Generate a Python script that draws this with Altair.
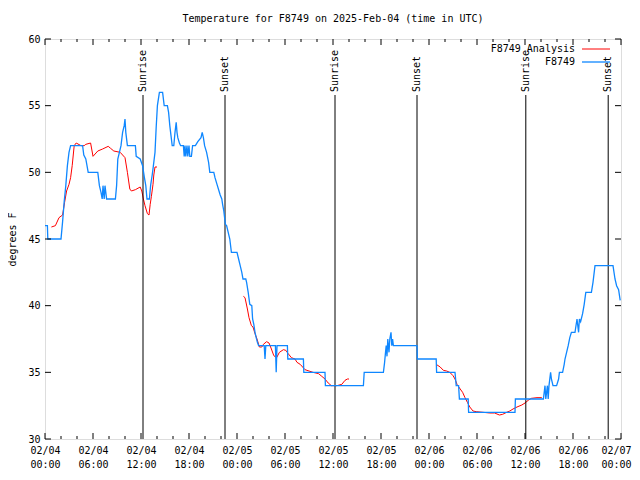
import altair as alt
import pandas as pd

# ---------------- data (hours since 2025-02-04 00:00 UTC, degrees F) ----------------
blue_hours = [
    0.0, 0.3, 0.35, 2.0, 2.2, 2.4, 2.6, 2.8, 3.0, 3.2,
    4.7, 4.85, 5.1, 5.4, 6.6, 6.8, 7.0, 7.15, 7.25, 7.4,
    7.5, 7.7, 8.8, 8.95, 9.1, 9.5, 9.7, 9.9, 10.0, 10.1,
    10.3, 11.3, 11.4, 11.9, 12.2, 12.4, 12.6, 12.75, 13.05, 13.2,
    13.4, 13.55, 13.75, 13.9, 14.05, 14.3, 14.7, 14.9, 15.3, 15.45,
    15.6, 15.75, 15.9, 16.1, 16.25, 16.4, 16.5, 16.6, 16.8, 16.95,
    17.3, 17.4, 17.5, 17.6, 17.75, 17.85, 18.0, 18.1, 18.3, 18.45,
    18.8, 19.1, 19.5, 19.65, 19.8, 19.95, 20.2, 20.45, 20.6, 21.1,
    21.25, 21.5, 21.75, 21.9, 22.1, 22.2, 22.35, 22.45, 22.55, 22.7,
    22.9, 23.1, 23.3, 24.0, 24.2, 24.4, 24.6, 24.75, 25.1, 25.2,
    25.4, 25.6, 25.85, 25.95, 26.1, 26.25, 26.4, 26.55, 26.7, 27.4,
    27.5, 27.6, 28.8, 28.9, 29.0, 30.3, 30.35, 32.3, 32.35, 35.0,
    35.05, 39.8, 39.9, 42.3, 42.45, 42.55, 42.65, 42.75, 42.85, 43.0,
    43.1, 43.25, 43.35, 43.45, 43.55, 46.5, 46.55, 48.9, 48.95, 51.25,
    51.4, 51.7, 51.8, 52.9, 52.95, 58.75, 58.8, 62.3, 62.5, 62.6,
    62.8, 62.9, 63.0, 63.2, 63.3, 63.5, 63.95, 64.2, 64.3, 64.7,
    64.9, 65.0, 65.2, 65.4, 65.6, 65.8, 66.25, 66.5, 66.7, 66.8,
    66.95, 67.2, 67.4, 67.6, 68.3, 68.5, 68.75, 71.0, 71.25, 71.45,
    71.7, 71.9,
]
blue_temps = [
    46, 46, 45, 45, 46.3, 47.8, 49, 50.5, 51.5, 52,
    52, 51.3, 51, 50, 50, 49, 48.5, 48, 49, 48,
    49, 48, 48, 49, 51, 52, 53, 53.5, 54, 53,
    52, 52, 51.2, 51, 50.5, 49.7, 49, 48, 48, 49,
    49.8, 50.5, 51.5, 53.4, 55, 56, 56, 55, 55, 54.5,
    53.5, 52.75, 52, 52, 53, 53.75, 53, 52.6, 52.2, 52,
    52, 51.2, 52, 51.2, 52, 51.2, 52, 51.2, 51.2, 52,
    52, 52.3, 52.6, 53, 52.6, 52, 51.5, 50.75, 50, 50,
    49.6, 49.1, 48.6, 48.3, 48, 47.6, 47.1, 46.6, 46.1, 46,
    45.5, 45, 44, 44, 43.5, 43, 42.5, 42, 42, 41.75,
    41, 40.1, 40, 39, 38.6, 38, 37.6, 37.25, 37, 37,
    36, 37, 37, 35, 37, 37, 36, 36, 35, 35,
    34, 34, 35, 35, 35.75, 36.4, 37, 36.2, 37.5, 36.5,
    37.5, 38, 37, 37.5, 37, 37, 36, 36, 35, 35,
    34, 34, 33, 33, 32, 32, 33, 33, 34, 33,
    34, 33, 34, 35, 34.5, 34, 34, 34.5, 35, 35,
    35.6, 36, 36.5, 37, 37.6, 38, 38, 39, 38, 39,
    38.8, 39.4, 40.1, 41, 41, 41.75, 43, 43, 42, 41.5,
    41.2, 40.4,
]

red1_hours = [0.8, 1.3, 1.75, 2.2, 2.45, 2.7, 3.0, 3.2, 3.4, 3.65,
              3.9, 4.5, 4.9, 5.1, 5.7, 6.0, 6.6, 7.2, 7.9, 8.2,
              8.6, 9.4, 10.0, 10.3, 10.6, 10.8, 11.3, 11.9, 12.1, 12.3,
              12.5, 12.8, 13.0, 13.15, 13.3, 13.5, 13.6, 13.75, 14.0]
red1_temps = [45.9, 46.0, 46.6, 46.8, 47.75, 48.6, 49.1, 49.6, 50.5, 52.0,
              52.2, 52.0, 52.0, 52.1, 52.2, 51.2, 51.6, 51.75, 51.95, 51.8,
              51.6, 51.5, 51.1, 50.0, 48.75, 48.6, 48.7, 48.9, 48.6, 48.0,
              47.5, 46.9, 46.8, 47.6, 48.2, 49.1, 49.8, 50.4, 50.4]
red2_hours = [24.8, 25.0, 25.3, 25.5, 25.8, 26.0, 26.25, 26.5, 26.8, 27.1,
              27.3, 27.7, 28.0, 28.3, 28.6, 28.95, 29.3, 29.8, 30.1, 30.4,
              30.8, 31.25, 31.5, 31.9, 32.5, 33.0, 33.5, 34.2, 34.6, 35.0,
              35.4, 35.8, 36.5, 37.1, 37.5, 37.8, 38.0]
red2_temps = [40.7, 40.6, 39.75, 39.1, 38.5, 38.4, 37.9, 37.5, 36.9, 36.9,
              37.1, 37.3, 37.2, 36.75, 36.25, 36.1, 36.5, 36.7, 36.65, 36.4,
              36.1, 36.0, 35.75, 35.6, 35.2, 35.1, 35.0, 34.9, 34.7, 34.5,
              34.2, 34.0, 34.0, 34.1, 34.4, 34.5, 34.5]
red3_hours = [48.9, 49.4, 49.8, 50.2, 50.6, 51.0, 51.25, 51.5, 51.9, 52.2,
              52.5, 52.8, 53.1, 53.5, 53.9, 54.8, 55.6, 56.2, 56.8, 57.2,
              57.7, 58.1, 58.5, 59.0, 59.6, 60.0, 60.4, 60.8, 61.5, 62.1]
red3_temps = [35.6, 35.4, 35.15, 35.1, 35.0, 34.75, 34.5, 34.1, 33.75, 33.5,
              33.1, 32.75, 32.4, 32.1, 32.05, 32.0, 31.95, 31.95, 31.8, 31.85,
              32.0, 32.1, 32.25, 32.4, 32.55, 32.7, 32.9, 33.05, 33.1, 33.1]

sun_hours = [12.25, 22.5, 36.25, 46.5, 60.1, 70.4]
sun_names = ["Sunrise", "Sunset", "Sunrise", "Sunset", "Sunrise", "Sunset"]

x_major = [0, 6, 12, 18, 24, 30, 36, 42, 48, 54, 60, 66, 72]
x_minor = [2, 4, 8, 10, 14, 16, 20, 22, 26, 28, 32, 34, 38, 40, 44, 46,
           50, 52, 56, 58, 62, 64, 68, 70]
y_major = [30, 35, 40, 45, 50, 55, 60]

TITLE = "Temperature for F8749 on 2025-Feb-04 (time in UTC)"
LEG_ANALYSIS = "F8749 Analysis"
LEG_OBS = "F8749"

# ---------------- frames ----------------
obs = pd.DataFrame({"h": blue_hours, "t": blue_temps})
ana = pd.concat([
    pd.DataFrame({"h": red1_hours, "t": red1_temps, "seg": "a"}),
    pd.DataFrame({"h": red2_hours, "t": red2_temps, "seg": "b"}),
    pd.DataFrame({"h": red3_hours, "t": red3_temps, "seg": "c"}),
], ignore_index=True)
sun = pd.DataFrame({"h": sun_hours, "name": sun_names})
xmaj = pd.DataFrame({"h": x_major})
xmin = pd.DataFrame({"h": x_minor})
ymaj = pd.DataFrame({"t": y_major})

W, H = 576, 400
FONT = "DejaVu Sans Mono"
RED = "#ff0000"
BLUE = "#0f87ff"

xs = alt.Scale(domain=[0, 72], nice=False, zero=False)
ys = alt.Scale(domain=[30, 60], nice=False, zero=False)

x_axis = alt.Axis(
    values=x_major, grid=False, ticks=False, domain=False, title=None,
    labelExpr="['02/0' + (4 + floor(datum.value / 24)), "
              "(datum.value % 24 < 10 ? '0' : '') + (datum.value % 24) + ':00']",
    labelFont=FONT, labelFontSize=10, labelColor="black", labelPadding=6,
    labelLineHeight=14, labelOverlap=False, labelFlush=False,
    labelOffset={"condition": {"test": "datum.value == 72", "value": -5}, "value": 0},
)
y_axis = alt.Axis(
    values=y_major, grid=False, ticks=False, domain=False, title="degrees F",
    labelFont=FONT, labelFontSize=10, labelColor="black", labelPadding=5,
    titleFont=FONT, titleFontSize=10, titleFontWeight="normal", titleColor="black",
    titlePadding=10,
)

X = alt.X("h:Q", scale=xs, axis=x_axis)
Y = alt.Y("t:Q", scale=ys, axis=y_axis)
Xn = alt.X("h:Q", scale=xs)
Yn = alt.Y("t:Q", scale=ys)

red_line = alt.Chart(ana).mark_line(color=RED, strokeWidth=1).encode(
    x=X, y=Y, detail="seg:N", order="h:Q")
blue_line = alt.Chart(obs).mark_line(color=BLUE, strokeWidth=1.3).encode(
    x=Xn, y=Yn, order="h:Q")

sun_rules = alt.Chart(sun).mark_rule(color="black", strokeWidth=1).encode(
    x=Xn, y=alt.value(56), y2=alt.value(H))
sun_text = alt.Chart(sun).mark_text(
    angle=270, align="left", baseline="middle", font=FONT, fontSize=10, color="black"
).encode(x=Xn, y=alt.value(53), text="name:N")

def xticks(df, length):
    bottom = alt.Chart(df).mark_rule(color="black").encode(
        x=Xn, y=alt.value(H), y2=alt.value(H - length))
    top = alt.Chart(df).mark_rule(color="black").encode(
        x=Xn, y=alt.value(0), y2=alt.value(length))
    return [bottom, top]

yt_left = alt.Chart(ymaj).mark_rule(color="black").encode(
    y=Yn, x=alt.value(0), x2=alt.value(6))
yt_right = alt.Chart(ymaj).mark_rule(color="black").encode(
    y=Yn, x=alt.value(W), x2=alt.value(W - 6))

leg_df1 = pd.DataFrame({"label": [LEG_ANALYSIS]})
leg_df2 = pd.DataFrame({"label": [LEG_OBS]})
leg_t1 = alt.Chart(leg_df1).mark_text(align="right", baseline="middle", font=FONT,
                                      fontSize=10, color="black").encode(
    x=alt.value(530), y=alt.value(10), text="label:N")
leg_t2 = alt.Chart(leg_df2).mark_text(align="right", baseline="middle", font=FONT,
                                      fontSize=10, color="black").encode(
    x=alt.value(530), y=alt.value(23), text="label:N")
leg_l1 = alt.Chart(leg_df1).mark_rule(color=RED, strokeWidth=1).encode(
    x=alt.value(537), x2=alt.value(565), y=alt.value(10))
leg_l2 = alt.Chart(leg_df2).mark_rule(color=BLUE, strokeWidth=1.3).encode(
    x=alt.value(537), x2=alt.value(565), y=alt.value(23))

layers = [red_line, sun_rules, sun_text, blue_line]
layers += xticks(xmaj, 6) + xticks(xmin, 3)
layers += [yt_left, yt_right, leg_t1, leg_t2, leg_l1, leg_l2]

chart = alt.layer(*layers).properties(
    width=W, height=H,
    title=alt.TitleParams(TITLE, font=FONT, fontSize=10, fontWeight="normal",
                          color="black", anchor="middle", offset=10),
    autosize=alt.AutoSizeParams(type="none"),
    padding={"left": 37, "top": 31, "right": 11, "bottom": 31},
).configure_view(stroke="black", strokeWidth=1).configure(background="white")

chart.save("out.html", embed_options={"renderer": "svg", "actions": False})
